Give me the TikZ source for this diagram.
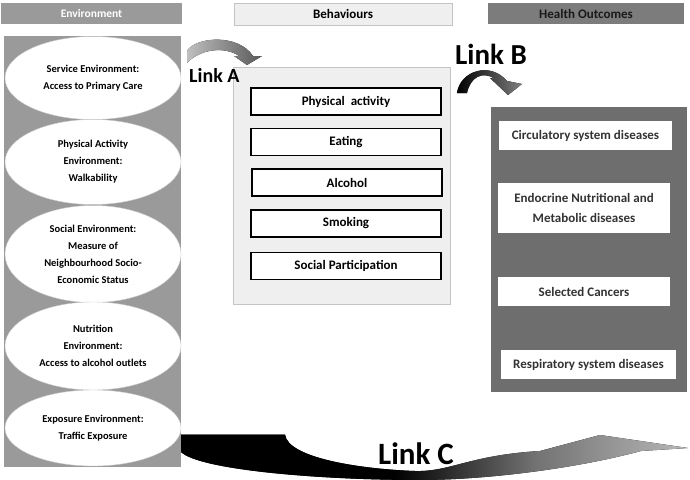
\documentclass[tikz,border=0pt]{standalone}
\usepackage{fontspec}
\setmainfont{Carlito}
\usetikzlibrary{shapes.geometric}
\definecolor{envgray}{HTML}{9A9A9A}
\definecolor{behfill}{HTML}{EFEFEF}
\definecolor{behline}{HTML}{C4C4C4}
\definecolor{outhead}{HTML}{7C7C7C}
\definecolor{outdark}{HTML}{6E6E6E}
\pgfdeclarehorizontalshading{linkcshade}{100bp}{color(0bp)=(black); color(46bp)=(black); color(60bp)=(black!55); color(75bp)=(black!28); color(100bp)=(black!28)}
\tikzset{
  hdr/.style={minimum height=21pt, inner sep=0pt, font=\fontsize{13}{15}\selectfont\bfseries},
  envshape/.style={ellipse, fill=white, draw=gray!40, minimum width=176pt, inner sep=0pt,
    align=center, font=\fontsize{10.5}{17}\selectfont\bfseries},
  behbox/.style={draw=black, line width=1.6pt, fill=white, minimum width=190pt,
    minimum height=27pt, inner sep=0pt, font=\fontsize{13}{15}\selectfont\bfseries},
  outbox/.style={fill=white, minimum height=29pt, inner sep=0pt, align=center,
    text=black!80, font=\fontsize{13}{20}\selectfont\bfseries},
  linktext/.style={anchor=base west, inner sep=0pt, font=\bfseries}
}
\begin{document}
\begin{tikzpicture}[x=1pt,y=-1pt]
      \useasboundingbox (0,0) rectangle (690,479);
      \fill[envgray] (4,36) rectangle (181,467);
      \filldraw[fill=behfill, draw=behline] (233,67) rectangle (450,304);
      \fill[outdark] (491,107) rectangle (687,392);
      \draw
        (91.5,13.5) node[hdr, fill=envgray, text=white, minimum width=181pt,
          font=\fontsize{11.5}{14}\selectfont\bfseries] (env){Environment}
        (343,14) node[hdr, fill=behfill, draw=behline, minimum width=218pt, minimum height=22pt] (beh){Behaviours}
        (586,13.5) node[hdr, fill=outhead, text=black!90, minimum width=196pt] (out){Health Outcomes};
      \draw
        (93,78) node[envshape, minimum height=83pt] (e1){Service Environment:\\Access to Primary Care}
        (93,162) node[envshape, minimum height=85pt] (e2){Physical Activity\\Environment:\\Walkability}
        (93,254) node[envshape, minimum height=97pt] (e3){Social Environment:\\Measure of\\Neighbourhood Socio-\\Economic Status}
        (93,346) node[envshape, minimum height=88pt] (e4){Nutrition\\Environment:\\Access to alcohol outlets}
        (93,428) node[envshape, minimum height=76pt] (e5){Exposure Environment:\\Traffic Exposure};
      \draw
        (346,101.5) node[behbox] (b1){Physical~ activity}
        (346,142) node[behbox] (b2){Eating}
        (347,182.5) node[behbox] (b3){Alcohol}
        (346,223.5) node[behbox] (b4){Smoking}
        (346,266) node[behbox] (b5){Social Participation};
      \draw
        (585.5,135.5) node[outbox, minimum width=173pt] (o1){Circulatory system diseases}
        (584,208) node[outbox, minimum width=172pt, minimum height=50pt] (o2){Endocrine Nutritional and\\Metabolic diseases}
        (584,291.5) node[outbox, minimum width=172pt] (o3){Selected Cancers}
        (588.5,364.5) node[outbox, minimum width=175pt] (o4){Respiratory system diseases};
      \fill[left color=black!25, right color=black!65]
        (187,51) .. controls (195,37) and (238,33) .. (253,56) -- (262,56) -- (247,65)
        -- (234,56) -- (239,56) .. controls (225,46) and (200,49) .. (187,63) -- cycle;
      \fill[left color=black, right color=black!50]
        (457,93) .. controls (460,71) and (490,61) .. (507,81) -- (522,84) -- (508,95)
        -- (490,78) -- (495,79) .. controls (482,70) and (470,78) .. (467,93) -- cycle;
      \fill[shading=linkcshade]
        (181,434.6) -- (285,434.6) .. controls (288,458) and (360,469) .. (415,471)
        .. controls (450,472) and (470,455) .. (540,451) -- (600,435) -- (688,448) -- (641,451)
        .. controls (570,470) and (480,480) .. (420,480)
        .. controls (320,480) and (200,470) .. (181,452) -- cycle;
      \draw
        (189,82) node[linktext, font=\fontsize{20}{22}\selectfont\bfseries] (linka){Link A}
        (455,64) node[linktext, font=\fontsize{29}{31}\selectfont\bfseries] (linkb){Link B}
        (378,464) node[linktext, font=\fontsize{31}{33}\selectfont\bfseries] (linkc){Link C};
    \end{tikzpicture}
\end{document}
